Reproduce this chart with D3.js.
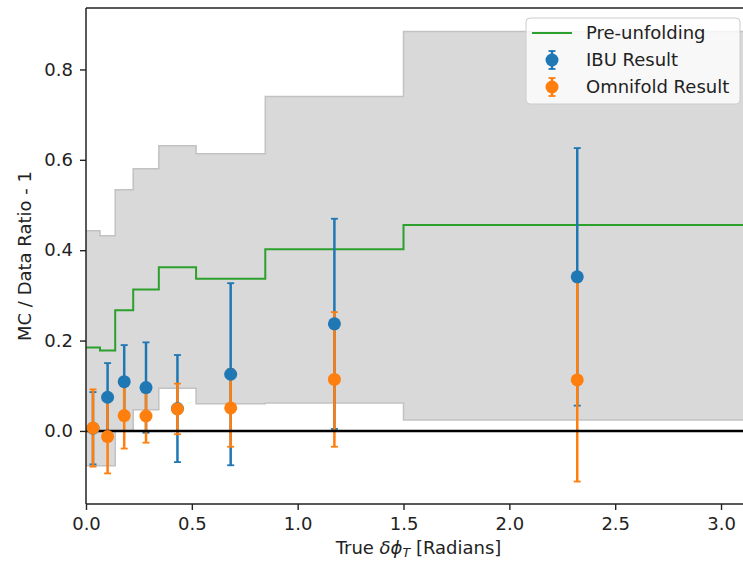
<!DOCTYPE html>
<html lang="en">
<head>
  <meta charset="UTF-8">
  <title>ratio</title>
  <script src="https://cdn.jsdelivr.net/npm/d3@7/dist/d3.min.js"></script>
  <style>
    body { margin: 0; background: #fff; }
    text { font-family: "DejaVu Sans", sans-serif; fill: #222; }
  </style>
</head>
<body>
  <svg width="743" height="562" id="mainsvg"></svg>
  <script>
    // bin edges on true delta phi_T
    const binEdges = [0, 0.066, 0.138, 0.223, 0.344, 0.52, 0.847, 1.5, Math.PI];
    const preUnfold = [0.1845, 0.178, 0.267, 0.313, 0.3625, 0.337, 0.402, 0.456];
    const bandLow = [-0.077, -0.077, 0.0, 0.047, 0.0945, 0.060, 0.062, 0.024];
    const bandHigh = [0.443, 0.432, 0.534, 0.580, 0.631, 0.6135, 0.740, 0.884];
    const ibuVal = [0.006, 0.0746, 0.109, 0.096, 0.0495, 0.1255, 0.237, 0.341];
    const ibuErr = [0.080, 0.0755, 0.081, 0.100, 0.1185, 0.2015, 0.2326, 0.285];
    const omniVal = [0.0065, -0.0125, 0.034, 0.033, 0.0487, 0.051, 0.114, 0.113];
    const omniErr = [0.0855, 0.0815, 0.073, 0.059, 0.056, 0.086, 0.149, 0.225];
    const xTicks = [0, 0.5, 1.0, 1.5, 2.0, 2.5, 3.0];
    const yTicks = [0, 0.2, 0.4, 0.6, 0.8];

    const blue = '#1f77b4', orange = '#ff7f0e', green = '#2ca02c';

    const svg = d3.select('#mainsvg');
    const margin = {left: 86, top: 8, right: 751, bottom: 504};

    const x = d3.scaleLinear().domain([0, Math.PI]).range([margin.left, margin.right]);
    const y = d3.scaleLinear().domain([-0.1617, 0.936]).range([margin.bottom, margin.top]);

    const centers = binEdges.slice(0, -1).map((e, i) => (e + binEdges[i + 1]) / 2);
    const stepPts = arr => arr.map((v, i) => ({x: binEdges[i], v: v}))
      .concat([{x: binEdges[binEdges.length - 1], v: arr[arr.length - 1]}]);

    svg.append('defs').append('clipPath').attr('id', 'clip')
      .append('rect').attr('x', margin.left).attr('y', margin.top)
      .attr('width', margin.right - margin.left).attr('height', margin.bottom - margin.top);

    const plot = svg.append('g').attr('clip-path', 'url(#clip)');

    // uncertainty band
    const bandData = binEdges.map((e, i) => {
      const k = Math.min(i, bandLow.length - 1);
      return {x: e, lo: bandLow[k], hi: bandHigh[k]};
    });
    plot.append('path').datum(bandData)
      .attr('d', d3.area().curve(d3.curveStepAfter)
        .x(d => x(d.x)).y0(d => y(d.lo)).y1(d => y(d.hi)))
      .attr('fill', '#d9d9d9');
    [bandLow, bandHigh].forEach(arr => {
      plot.append('path').datum(stepPts(arr))
        .attr('d', d3.line().curve(d3.curveStepAfter).x(d => x(d.x)).y(d => y(d.v)))
        .attr('fill', 'none').attr('stroke', '#c2c2c2').attr('stroke-width', 1.5);
    });

    // pre-unfolding
    plot.append('path').datum(stepPts(preUnfold))
      .attr('d', d3.line().curve(d3.curveStepAfter).x(d => x(d.x)).y(d => y(d.v)))
      .attr('fill', 'none').attr('stroke', green).attr('stroke-width', 2);

    // error bars
    function errBars(vals, errs, color) {
      const g = plot.append('g').attr('stroke', color);
      vals.forEach((v, i) => {
        const cx = x(centers[i]);
        g.append('line').attr('x1', cx).attr('x2', cx)
          .attr('y1', y(v - errs[i])).attr('y2', y(v + errs[i]))
          .attr('stroke-width', 2.5);
        [v - errs[i], v + errs[i]].forEach(c => {
          g.append('line').attr('x1', cx - 3.5).attr('x2', cx + 3.5)
            .attr('y1', y(c)).attr('y2', y(c)).attr('stroke-width', 1.8);
        });
      });
    }
    errBars(ibuVal, ibuErr, blue);
    errBars(omniVal, omniErr, orange);

    // zero line
    plot.append('line').attr('x1', margin.left).attr('x2', margin.right)
      .attr('y1', y(0)).attr('y2', y(0))
      .attr('stroke', '#000').attr('stroke-width', 2.6);

    // markers
    [[ibuVal, blue], [omniVal, orange]].forEach(([vals, color]) => {
      plot.selectAll(null).data(vals).enter().append('circle')
        .attr('cx', (d, i) => x(centers[i])).attr('cy', d => y(d))
        .attr('r', 6.5).attr('fill', color);
    });

    // axes
    const fmt = d3.format('.1f');
    const xAxis = svg.append('g').attr('transform', `translate(0,${margin.bottom})`)
      .call(d3.axisBottom(x).tickValues(xTicks).tickFormat(fmt).tickSize(6).tickPadding(7));
    const yAxis = svg.append('g').attr('transform', `translate(${margin.left},0)`)
      .call(d3.axisLeft(y).tickValues(yTicks).tickFormat(fmt).tickSize(6).tickPadding(7));
    [xAxis, yAxis].forEach(a => {
      a.select('.domain').remove();
      a.selectAll('.tick line').attr('stroke', '#222').attr('stroke-width', 1.4);
      a.selectAll('.tick text').attr('font-size', '18px')
        .attr('font-family', '"DejaVu Sans", sans-serif').attr('fill', '#222');
    });

    // spines
    const spine = (x1, y1, x2, y2) => svg.append('line')
      .attr('x1', x1).attr('y1', y1).attr('x2', x2).attr('y2', y2)
      .attr('stroke', '#222').attr('stroke-width', 1.5);
    spine(margin.left, margin.top, margin.left, margin.bottom);
    spine(margin.left, margin.bottom, margin.right, margin.bottom);
    spine(margin.left, margin.top, margin.right, margin.top);
    spine(margin.right, margin.top, margin.right, margin.bottom);

    // axis labels
    const xl = svg.append('text').attr('x', (margin.left + margin.right) / 2).attr('y', 554)
      .attr('text-anchor', 'middle').attr('font-size', '18px');
    xl.append('tspan').text('True ');
    xl.append('tspan').attr('font-style', 'italic').text('δϕ');
    xl.append('tspan').attr('font-style', 'italic').attr('font-size', '12.6px').attr('dy', 3).text('T');
    xl.append('tspan').attr('dy', -3).text(' [Radians]');

    svg.append('text').attr('transform', `translate(31,${(margin.top + margin.bottom) / 2}) rotate(-90)`)
      .attr('text-anchor', 'middle').attr('font-size', '18px').text('MC / Data Ratio - 1');

    // legend
    const lg = svg.append('g').attr('transform', 'translate(526,18)');
    lg.append('rect').attr('width', 214).attr('height', 86).attr('rx', 4)
      .attr('fill', 'rgba(255,255,255,0.8)').attr('stroke', '#cccccc').attr('stroke-width', 1);
    const items = [
      {label: 'Pre-unfolding', type: 'line', color: green},
      {label: 'IBU Result', type: 'err', color: blue},
      {label: 'Omnifold Result', type: 'err', color: orange}
    ];
    items.forEach((it, i) => {
      const cy = 15 + i * 27;
      if (it.type === 'line') {
        lg.append('line').attr('x1', 6).attr('x2', 46).attr('y1', cy).attr('y2', cy)
          .attr('stroke', it.color).attr('stroke-width', 2);
      } else {
        const cx = 26;
        lg.append('line').attr('x1', cx).attr('x2', cx).attr('y1', cy - 9).attr('y2', cy + 9)
          .attr('stroke', it.color).attr('stroke-width', 2.5);
        [cy - 9, cy + 9].forEach(c => lg.append('line').attr('x1', cx - 3.5).attr('x2', cx + 3.5)
          .attr('y1', c).attr('y2', c).attr('stroke', it.color).attr('stroke-width', 1.8));
        lg.append('circle').attr('cx', cx).attr('cy', cy).attr('r', 6.5).attr('fill', it.color);
      }
      lg.append('text').attr('x', 60).attr('y', cy).attr('dy', '0.35em')
        .attr('font-size', '18px').text(it.label);
    });
  </script>
</body>
</html>
